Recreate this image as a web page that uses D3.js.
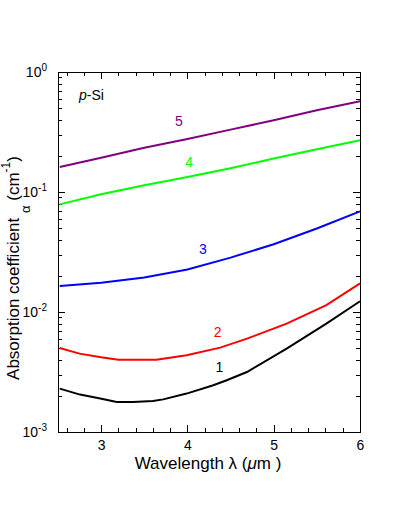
<!DOCTYPE html>
<html>
<head>
<meta charset="utf-8">
<script src="https://cdn.jsdelivr.net/npm/d3@7"></script>
<style>
  body { margin: 0; background: #fff; }
  text { font-family: "Liberation Sans", Arial, sans-serif; }
</style>
</head>
<body>
<div class="canvas-container"></div>
<script>

// wavelength (um) / absorption coefficient (cm^-1)
var lambda1 = [2.52, 2.755, 2.99, 3.18, 3.37, 3.6, 3.72, 3.99, 4.3, 4.455, 4.69, 5.15, 5.61, 6.0];
var alpha1  = [0.0023, 0.00205, 0.0019, 0.00178, 0.00178, 0.00181, 0.00187, 0.00209, 0.00245, 0.0027, 0.00316, 0.00495, 0.0080, 0.0123];

var lambda2 = [2.52, 2.75, 3.0, 3.2, 3.64, 3.99, 4.38, 4.69, 5.15, 5.61, 6.0];
var alpha2  = [0.00501, 0.0045, 0.00419, 0.0040, 0.0040, 0.00436, 0.00505, 0.0060, 0.0080, 0.0114, 0.0173];

var lambda3 = [2.52, 3.0, 3.5, 4.0, 4.5, 5.0, 5.5, 6.0];
var alpha3  = [0.0165, 0.0175, 0.0194, 0.0226, 0.0284, 0.0367, 0.0496, 0.069];

var lambda4 = [2.52, 3.0, 3.5, 4.0, 4.5, 5.0, 5.5, 6.0];
var alpha4  = [0.0789, 0.0957, 0.1137, 0.1334, 0.158, 0.19, 0.227, 0.27];

var lambda5 = [2.52, 3.0, 3.5, 4.0, 4.5, 5.0, 5.5, 6.0];
var alpha5  = [0.1615, 0.193, 0.234, 0.277, 0.331, 0.396, 0.48, 0.57];

var curveNames  = ["1", "2", "3", "4", "5"];
var curveColors = ["#000000", "#ff0000", "#0000ff", "#00ff00", "#800080"];
// where each curve number sits (lambda, alpha)
var labelLambda = [4.37, 4.35, 4.18, 4.02, 3.90];
var labelAlpha  = [0.00316, 0.0062, 0.0304, 0.1616, 0.355];

var xMajor = [3, 4, 5, 6];
var xMinor = [2.6, 2.8, 3.2, 3.4, 3.6, 3.8, 4.2, 4.4, 4.6, 4.8, 5.2, 5.4, 5.6, 5.8];
var yMajor = [1e-3, 1e-2, 1e-1, 1];
var yExp   = ["-3", "-2", "-1", "0"];

var width = 396, height = 510;
var margin = {top: 72, right: 36, bottom: 78, left: 58};

var svg = d3.select("div.canvas-container")
    .append("svg")
    .attr("width", width)
    .attr("height", height);

svg.append("rect").attr("width", width).attr("height", height).attr("fill", "#fff");

var x = d3.scaleLinear().domain([2.5, 6]).range([margin.left, width - margin.right]);
var y = d3.scaleLog().domain([1e-3, 1]).range([height - margin.bottom, margin.top]);

var yMinor = [];
yMajor.slice(0, 3).forEach(function (d) {
    for (var k = 2; k <= 9; k++) yMinor.push(d * k);
});

var x0 = x.range()[0], x1 = x.range()[1];
var yb = y.range()[0], yt0 = y.range()[1];

// ticks, pointing inwards, on all four sides
var ticks = svg.append("g").attr("stroke", "#000").attr("stroke-width", 1)
    .attr("shape-rendering", "crispEdges");

function xTicks(vals, len) {
    vals.forEach(function (v) {
        var px = Math.round(x(v)) + 0.5;
        ticks.append("line").attr("x1", px).attr("x2", px).attr("y1", yb).attr("y2", yb - len);
        ticks.append("line").attr("x1", px).attr("x2", px).attr("y1", yt0).attr("y2", yt0 + len);
    });
}
function yTicks(vals, len) {
    vals.forEach(function (v) {
        var py = Math.round(y(v)) + 0.5;
        ticks.append("line").attr("x1", x0).attr("x2", x0 + len).attr("y1", py).attr("y2", py);
        ticks.append("line").attr("x1", x1).attr("x2", x1 - len).attr("y1", py).attr("y2", py);
    });
}
xTicks(xMinor, 4);
xTicks(xMajor, 7);
yTicks(yMinor, 4);
yTicks(yMajor, 7);

// frame
svg.append("rect")
    .attr("x", x0 + 0.5).attr("y", yt0 + 0.5)
    .attr("width", x1 - x0).attr("height", yb - yt0)
    .attr("fill", "none").attr("stroke", "#000").attr("stroke-width", 1)
    .attr("shape-rendering", "crispEdges");

// x tick labels
var gb = svg.append("g").attr("transform", "translate(0," + yb + ")");
gb.call(d3.axisBottom(x).tickValues(xMajor).tickSize(0).tickPadding(8).tickFormat(d3.format("d")));
gb.select(".domain").remove();
gb.selectAll("text").attr("fill", "#000").style("font-size", "14px");

// y tick labels
var gl = svg.append("g").attr("transform", "translate(" + x0 + ",0)");
gl.call(d3.axisLeft(y).tickValues(yMajor).tickSize(0).tickPadding(11)
    .tickFormat(function () { return ""; }));
gl.select(".domain").remove();
gl.selectAll(".tick text").attr("fill", "#000").style("font-size", "14px").each(function (d, i) {
    var t = d3.select(this);
    t.append("tspan").text("10");
    t.append("tspan").attr("dy", "-0.55em").style("font-size", "10px").text(yExp[i]);
});

// curves
var series = [
    d3.zip(lambda1, alpha1),
    d3.zip(lambda2, alpha2),
    d3.zip(lambda3, alpha3),
    d3.zip(lambda4, alpha4),
    d3.zip(lambda5, alpha5)
];

var line = d3.line()
    .x(function (d) { return x(d[0]); })
    .y(function (d) { return y(d[1]); });

svg.selectAll(".curve")
    .data(series)
    .enter()
    .append("path")
    .attr("class", "curve")
    .attr("d", line)
    .attr("fill", "none")
    .attr("stroke", function (d, i) { return curveColors[i]; })
    .attr("stroke-width", 2);

svg.selectAll(".clabel")
    .data(curveNames)
    .enter()
    .append("text")
    .attr("class", "clabel")
    .attr("x", function (d, i) { return x(labelLambda[i]); })
    .attr("y", function (d, i) { return y(labelAlpha[i]); })
    .attr("text-anchor", "middle")
    .attr("fill", function (d, i) { return curveColors[i]; })
    .style("font-size", "14px")
    .text(function (d) { return d; });

// p-Si
var ps = svg.append("text")
    .attr("x", 79)
    .attr("y", 100)
    .style("font-size", "14px")
    .attr("fill", "#000");
ps.append("tspan").style("font-style", "italic").text("p");
ps.append("tspan").text("-Si");

// x title
var xt = svg.append("text")
    .attr("x", 208)
    .attr("y", 469)
    .attr("text-anchor", "middle")
    .style("font-size", "17px")
    .attr("fill", "#000");
xt.append("tspan").text("Wavelength \u03bb (");
xt.append("tspan").style("font-style", "italic").text("\u03bc");
xt.append("tspan").text("m )");

// y title
var yt = svg.append("text")
    .attr("transform", "translate(19,268) rotate(-90)")
    .attr("text-anchor", "middle")
    .style("font-size", "17px")
    .attr("fill", "#000");
yt.append("tspan").text("Absorption coefficient ");
yt.append("tspan").attr("dy", 11).style("font-size", "13px").text("\u03b1");
yt.append("tspan").attr("dy", -11).text(" (cm");
yt.append("tspan").attr("dy", -9).style("font-size", "12px").text("-1");
yt.append("tspan").attr("dy", 9).text(")");

</script>
</body>
</html>
